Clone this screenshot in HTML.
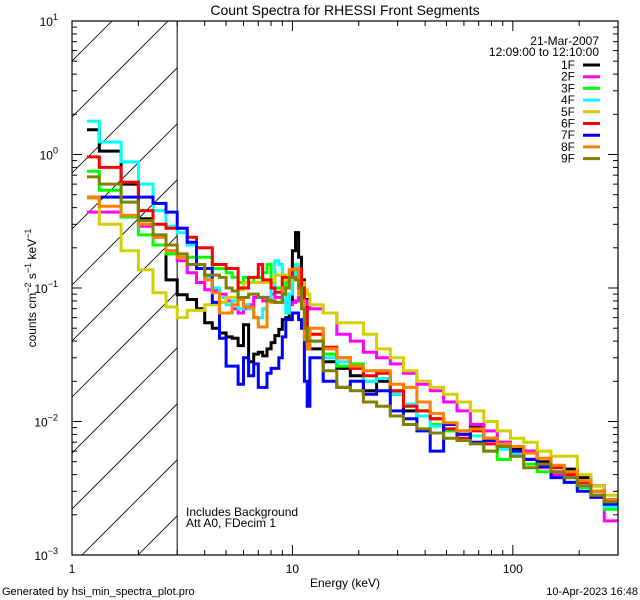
<!DOCTYPE html>
<html><head><meta charset="utf-8"><style>
body{margin:0;background:#fff;}
svg{display:block;font-family:"Liberation Sans",sans-serif;}
</style></head><body>
<svg id="chart" width="640" height="600" viewBox="0 0 640 600" xmlns="http://www.w3.org/2000/svg">
<rect width="640" height="600" fill="#fff"/>
<text x="345" y="15" font-size="14" text-anchor="middle">Count Spectra for RHESSI Front Segments</text>
<g id="hatch"></g>
<g id="series"></g>
<g id="axes"></g>
<text x="345" y="587" font-size="12" text-anchor="middle">Energy (keV)</text>
<text transform="translate(36,288) rotate(-90)" font-size="12" text-anchor="middle">counts cm<tspan dy="-5" font-size="9">−2</tspan><tspan dy="5"> s</tspan><tspan dy="-5" font-size="9">−1</tspan><tspan dy="5"> keV</tspan><tspan dy="-5" font-size="9">−1</tspan></text>
<text x="186" y="516" font-size="12">Includes Background</text>
<text x="186" y="527" font-size="12">Att A0, FDecim 1</text>
<text x="2" y="595" font-size="11">Generated by hsi_min_spectra_plot.pro</text>
<text x="638" y="595" font-size="11" text-anchor="end">10-Apr-2023 16:48</text>
<text x="599" y="45" font-size="12" text-anchor="end">21-Mar-2007</text>
<text x="599" y="56" font-size="12" text-anchor="end">12:09:00 to 12:10:00</text>
<g id="legend"></g>
</svg>
<script>
const binEdges = [1.17,1.33,1.67,2,2.33,2.67,3,3.33,3.67,4,4.33,4.67,5,5.33,5.67,6,6.33,6.67,7,7.33,7.67,8,8.33,8.67,9,9.33,9.67,10,10.33,10.67,11,11.33,11.67,12,
13.8,15.9,18.3,21,24.1,27.8,31.9,36.7,42.2,48.5,55.8,64.2,73.8,84.9,97.6,112,129,149,171,196,226,260,299];
const seriesNames = ["1F","2F","3F","4F","5F","6F","7F","8F","9F"];
const seriesColors = ["#000000","#ff00ff","#00ff00","#00ffff","#d4d000","#ff0000","#0000ff","#ff8000","#808000"];
const counts1F = [1.53,1.06,0.60,0.33,0.21,0.115,0.089,0.082,0.070,0.055,0.050,0.046,0.043,0.042,0.037,0.053,0.028,0.032,0.033,0.031,0.035,0.039,0.044,0.049,0.058,0.06,0.078,0.19,0.26,0.17,0.115,0.082,0.035,
0.035,0.028,0.025,0.022,0.017,0.02,0.016,0.012,0.011,0.0105,0.0095,0.0085,0.009,0.0075,0.007,0.0062,0.006,0.005,0.0046,0.0044,0.0038,0.0033,0.0026];
const counts2F = [0.37,0.37,0.34,0.29,0.24,0.19,0.16,0.13,0.11,0.097,0.095,0.09,0.08,0.07,0.065,0.07,0.075,0.085,0.085,0.08,0.085,0.09,0.085,0.085,0.08,0.078,0.075,0.078,0.08,0.085,0.085,0.08,0.075,
0.07,0.065,0.045,0.04,0.033,0.03,0.027,0.023,0.019,0.017,0.014,0.012,0.0095,0.0085,0.007,0.0065,0.006,0.0045,0.004,0.0038,0.0035,0.0028,0.0018];
const counts3F = [0.75,0.54,0.34,0.25,0.21,0.18,0.17,0.17,0.17,0.17,0.14,0.14,0.13,0.12,0.11,0.12,0.11,0.12,0.12,0.13,0.15,0.11,0.10,0.10,0.10,0.11,0.12,0.13,0.13,0.11,0.08,0.06,0.045,
0.045,0.032,0.026,0.027,0.02,0.021,0.017,0.0135,0.012,0.0095,0.0085,0.0075,0.007,0.006,0.0052,0.0055,0.0048,0.0042,0.0045,0.0035,0.0032,0.0028,0.0022];
const counts4F = [1.78,1.24,0.88,0.60,0.38,0.29,0.26,0.21,0.15,0.12,0.10,0.085,0.075,0.08,0.07,0.075,0.07,0.06,0.06,0.07,0.08,0.10,0.16,0.15,0.09,0.065,0.09,0.12,0.15,0.14,0.10,0.06,0.045,
0.04,0.03,0.028,0.026,0.02,0.021,0.016,0.0135,0.011,0.0092,0.0088,0.0075,0.0078,0.0068,0.0062,0.0057,0.0052,0.0046,0.0042,0.0038,0.0033,0.0028,0.0023];
const counts5F = [0.47,0.30,0.19,0.137,0.092,0.072,0.06,0.068,0.068,0.075,0.075,0.078,0.085,0.085,0.097,0.11,0.11,0.11,0.11,0.11,0.11,0.11,0.125,0.125,0.125,0.115,0.115,0.115,0.115,0.115,0.11,0.097,0.09,
0.075,0.065,0.055,0.055,0.045,0.035,0.03,0.024,0.02,0.018,0.016,0.014,0.012,0.010,0.0085,0.0075,0.007,0.006,0.0055,0.0055,0.004,0.0033,0.0028];
const counts6F = [0.96,0.80,0.62,0.38,0.30,0.28,0.28,0.24,0.20,0.20,0.15,0.15,0.14,0.14,0.10,0.10,0.12,0.12,0.15,0.115,0.115,0.10,0.093,0.093,0.12,0.12,0.12,0.14,0.14,0.14,0.10,0.07,0.05,
0.045,0.036,0.03,0.025,0.022,0.023,0.017,0.013,0.012,0.0105,0.0088,0.0075,0.0085,0.0068,0.0065,0.006,0.0052,0.0048,0.0045,0.004,0.0035,0.003,0.0025];
const counts7F = [0.48,0.48,0.48,0.48,0.43,0.37,0.28,0.22,0.14,0.14,0.078,0.042,0.026,0.026,0.019,0.03,0.022,0.027,0.018,0.018,0.023,0.025,0.025,0.03,0.043,0.058,0.058,0.065,0.065,0.058,0.05,0.02,0.013,
0.03,0.02,0.018,0.02,0.016,0.017,0.012,0.0105,0.0085,0.006,0.0095,0.008,0.007,0.0072,0.0065,0.006,0.0052,0.0046,0.0038,0.0035,0.003,0.0027,0.0024];
const counts8F = [0.48,0.41,0.35,0.30,0.24,0.19,0.17,0.15,0.15,0.115,0.092,0.065,0.065,0.075,0.082,0.072,0.072,0.06,0.051,0.051,0.082,0.078,0.078,0.078,0.10,0.10,0.137,0.137,0.14,0.09,0.08,0.041,0.035,
0.05,0.035,0.03,0.026,0.024,0.024,0.019,0.018,0.014,0.0115,0.0098,0.0085,0.0088,0.0075,0.0068,0.0065,0.0058,0.0053,0.0047,0.0042,0.0036,0.003,0.0026];
const counts9F = [0.68,0.60,0.44,0.32,0.25,0.21,0.18,0.15,0.15,0.125,0.125,0.12,0.10,0.095,0.085,0.085,0.09,0.09,0.085,0.085,0.08,0.08,0.078,0.078,0.09,0.10,0.12,0.12,0.115,0.10,0.07,0.05,0.04,
0.04,0.024,0.018,0.017,0.014,0.013,0.011,0.0095,0.0088,0.0082,0.0075,0.0072,0.0068,0.006,0.0065,0.0055,0.0045,0.0048,0.0042,0.0038,0.0033,0.0028,0.0025];
const xTickLabels = ["1","10","100"];
const yTickExps = ["1","0","−1","−2","−3"];

const allCounts = [counts1F,counts2F,counts3F,counts4F,counts5F,counts6F,counts7F,counts8F,counts9F];
const NS = "http://www.w3.org/2000/svg";
const L=72, R=618, T=21, B=555;
const xMin=1, xMax=300, yMin=1e-3, yMax=10;
function xs(e){return L+(Math.log10(e)-Math.log10(xMin))/(Math.log10(xMax)-Math.log10(xMin))*(R-L);}
function ys(v){return B-(Math.log10(v)-Math.log10(yMin))/(Math.log10(yMax)-Math.log10(yMin))*(B-T);}
function mk(tag,attrs,parent){const el=document.createElementNS(NS,tag);for(const k in attrs)el.setAttribute(k,attrs[k]);parent.appendChild(el);return el;}

// hatch
const hatch=document.getElementById('hatch');
const x3=xs(3);
mk('clipPath',{id:'hclip'},hatch).appendChild(Object.assign(document.createElementNS(NS,'rect'),{}));
hatch.lastChild.firstChild.setAttribute('x',L);hatch.lastChild.firstChild.setAttribute('y',T);
hatch.lastChild.firstChild.setAttribute('width',x3-L);hatch.lastChild.firstChild.setAttribute('height',B-T);
const hg=mk('g',{'clip-path':'url(#hclip)'},hatch);
for(let c=T-240;c<B+120;c+=56){
  const ln=mk('line',{x1:L,y1:c,x2:L+600,y2:c-600,stroke:'#000','stroke-width':0.8},hg);
  
  
}
const vl=mk('line',{x1:x3,y1:T,x2:x3,y2:B,stroke:'#000','stroke-width':1},hatch);



// series
const sg=document.getElementById('series');
mk('clipPath',{id:'pclip'},sg);
mk('rect',{x:L,y:T,width:R-L,height:B-T},sg.lastChild);
allCounts.forEach((arr,si)=>{
  let d='';
  for(let i=0;i<arr.length;i++){
    const x0=xs(binEdges[i]),x1=xs(binEdges[i+1]),y=ys(arr[i]);
    d+=(i===0?'M':'L')+x0.toFixed(1)+','+y.toFixed(1)+'L'+x1.toFixed(1)+','+y.toFixed(1);
  }
  const p=mk('path',{d:d,fill:'none',stroke:seriesColors[si],'stroke-width':3,'stroke-linejoin':'miter','clip-path':'url(#pclip)'},sg);
  
  
});

// axes
const ax=document.getElementById('axes');
const frame=mk('rect',{x:L,y:T,width:R-L,height:B-T,fill:'none',stroke:'#000','stroke-width':1.2},ax);


for(let dec=0;dec<3;dec++){
  for(let m=1;m<10;m++){
    const e=Math.pow(10,dec)*m; if(e>xMax)break;
    const x=xs(e), len=m===1?10:5;
    mk('line',{x1:x,y1:B,x2:x,y2:B-len,stroke:'#000'},ax);
    mk('line',{x1:x,y1:T,x2:x,y2:T+len,stroke:'#000'},ax);
  }
}
xTickLabels.forEach((lab,i)=>{
  const t=mk('text',{x:xs(Math.pow(10,i)),y:573,'font-size':12,'text-anchor':'middle'},ax);
  t.textContent=lab;
  
  
});
for(let dec=-3;dec<1;dec++){
  for(let m=1;m<10;m++){
    const v=Math.pow(10,dec)*m; const y=ys(v), len=m===1?10:5;
    mk('line',{x1:L,y1:y,x2:L+len,y2:y,stroke:'#000'},ax);
    mk('line',{x1:R,y1:y,x2:R-len,y2:y,stroke:'#000'},ax);
  }
}
mk('line',{x1:L,y1:T,x2:L+10,y2:T,stroke:'#000'},ax);
yTickExps.forEach((ex,i)=>{
  const v=Math.pow(10,1-i);
  const t=mk('text',{x:58,y:ys(v)+5,'font-size':12,'text-anchor':'end'},ax);
  
  
  t.textContent='10';
  const sp=document.createElementNS(NS,'tspan');
  sp.setAttribute('dy','-6');sp.setAttribute('font-size','9');sp.textContent=ex;
  t.appendChild(sp);
});

// legend
const lg=document.getElementById('legend');
seriesNames.forEach((n,i)=>{
  const y=65+i*11.7;
  const t=mk('text',{x:575,y:y+4,'font-size':12,'text-anchor':'end'},lg);
  t.textContent=n;
  
  
  const ln=mk('line',{x1:583,y1:y,x2:600,y2:y,stroke:seriesColors[i],'stroke-width':3},lg);
  
  
});
</script>
</body></html>
